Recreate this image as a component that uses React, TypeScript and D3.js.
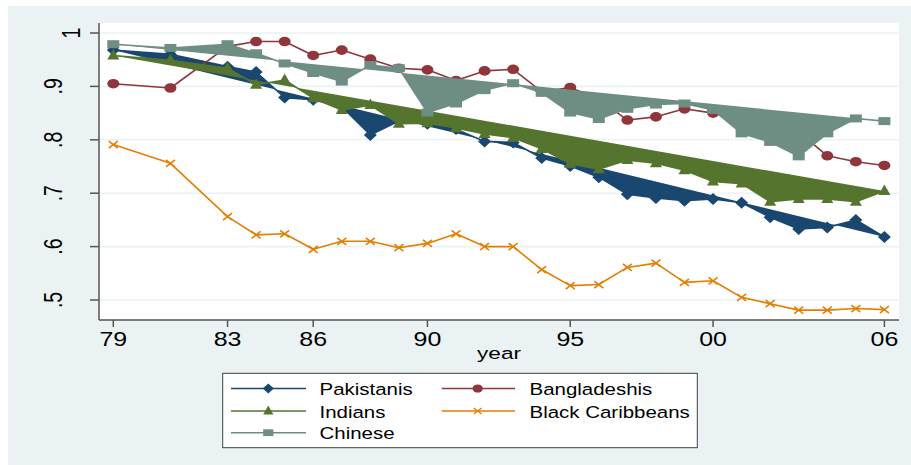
import React from "react";
import * as d3 from "d3";

const years = [1979, 1981, 1983, 1984, 1985, 1986, 1987, 1988, 1989, 1990, 1991, 1992, 1993, 1994, 1995, 1996, 1997, 1998, 1999, 2000, 2001, 2002, 2003, 2004, 2005, 2006];
const pakistanis = [0.968, 0.960, 0.937, 0.927, 0.879, 0.875, 0.862, 0.809, 0.835, 0.830, 0.820, 0.797, 0.795, 0.766, 0.751, 0.730, 0.698, 0.691, 0.686, 0.689, 0.682, 0.655, 0.633, 0.636, 0.650, 0.618];
const bangladeshis = [0.905, 0.897, 0.975, 0.984, 0.984, 0.958, 0.968, 0.951, 0.934, 0.931, 0.911, 0.929, 0.932, 0.890, 0.898, 0.876, 0.837, 0.843, 0.858, 0.850, 0.835, 0.825, 0.815, 0.770, 0.759, 0.752];
const indians = [0.958, 0.949, 0.934, 0.903, 0.912, 0.878, 0.856, 0.865, 0.830, 0.831, 0.822, 0.811, 0.804, 0.783, 0.755, 0.745, 0.762, 0.756, 0.743, 0.722, 0.718, 0.684, 0.689, 0.689, 0.684, 0.704];
const blackCaribbeans = [0.791, 0.756, 0.656, 0.622, 0.624, 0.595, 0.610, 0.610, 0.598, 0.606, 0.624, 0.600, 0.600, 0.557, 0.527, 0.529, 0.561, 0.569, 0.533, 0.536, 0.505, 0.493, 0.481, 0.481, 0.484, 0.482];
const chinese = [0.979, 0.972, 0.979, 0.962, 0.943, 0.925, 0.909, 0.940, 0.934, 0.851, 0.868, 0.893, 0.906, 0.888, 0.851, 0.839, 0.858, 0.866, 0.868, 0.856, 0.812, 0.796, 0.769, 0.812, 0.840, 0.835];

const xTicks = [1979, 1983, 1986, 1990, 1995, 2000, 2006];
const xTickLabels = ["79", "83", "86", "90", "95", "00", "06"];
const yTicks = [0.5, 0.6, 0.7, 0.8, 0.9, 1];
const yTickLabels = [".5", ".6", ".7", ".8", ".9", "1"];

type Series = { name: string; values: number[]; color: string; marker: string; filled: boolean };
const series: Series[] = [
  { name: "Pakistanis", values: pakistanis, color: "#1a476f", marker: "diamond", filled: true },
  { name: "Bangladeshis", values: bangladeshis, color: "#90353b", marker: "circle", filled: false },
  { name: "Indians", values: indians, color: "#55752f", marker: "triangle", filled: true },
  { name: "Black Caribbeans", values: blackCaribbeans, color: "#e37e00", marker: "x", filled: false },
  { name: "Chinese", values: chinese, color: "#6e8e84", marker: "square", filled: true },
];

const FONT = "'Liberation Sans', Arial, Helvetica, sans-serif";

function Marker({ type, x, y, color, s = 1 }: { type: string; x: number; y: number; color: string; s?: number }) {
  const t = `translate(${x},${y}) scale(${s})`;
  if (type === "diamond") return <path transform={t} d="M0,-6 L6.5,0 L0,6 L-6.5,0 Z" fill={color} />;
  if (type === "circle") return <ellipse transform={t} rx={6} ry={4.8} fill={color} />;
  if (type === "triangle") return <path transform={t} d="M0,-6.5 L6,4 L-6,4 Z" fill={color} />;
  if (type === "square") return <rect transform={t} x={-6} y={-4} width={12} height={8} fill={color} />;
  return <path transform={t} d="M-4.5,-3.5 L4.5,3.5 M-4.5,3.5 L4.5,-3.5" stroke={color} strokeWidth={1.6} fill="none" />;
}

export default function App() {
  const x = d3.scaleLinear().domain([1979, 2006]).range([113.3, 884.4]);
  const y = d3.scaleLinear().domain([0.5, 1]).range([300, 33]);
  const plot = { left: 99, top: 23, right: 899, bottom: 320 };

  const line = d3.line<[number, number]>().x((d) => x(d[0])).y((d) => y(d[1]));

  const legendItems = [
    { s: series[0], col: 0, row: 0 },
    { s: series[1], col: 1, row: 0 },
    { s: series[2], col: 0, row: 1 },
    { s: series[3], col: 1, row: 1 },
    { s: series[4], col: 0, row: 2 },
  ];
  const legCols = [{ l0: 231, l1: 306, m: 268.3, t: 319.5 }, { l0: 441.7, l1: 515, m: 477.7, t: 529.5 }];
  const legRows = [388.5, 411, 432.7];

  return (
    <svg width={911} height={465} style={{ position: "absolute", left: 0, top: 0, display: "block" }}>
      <rect x={0} y={0} width={911} height={465} fill="#ffffff" />
      <rect x={8} y={6} width={903} height={459} fill="#eaf2f3" />
      <rect x={plot.left} y={plot.top} width={plot.right - plot.left} height={plot.bottom - plot.top} fill="#ffffff" />
      {yTicks.map((t) => (
        <line key={"g" + t} x1={plot.left} x2={plot.right} y1={y(t)} y2={y(t)} stroke="#eaf2f3" strokeWidth={1.6} />
      ))}

      {series.map((s) => {
        const pts: [number, number][] = years.map((yr, i) => [yr, s.values[i]]);
        const d = line(pts) || "";
        return (
          <g key={s.name}>
            {s.filled && <path d={d + "Z"} fill={s.color} stroke="none" />}
            <path d={d} fill="none" stroke={s.color} strokeWidth={1.6} strokeLinejoin="round" />
            {pts.map((p, i) => (
              <Marker key={i} type={s.marker} x={x(p[0])} y={y(p[1])} color={s.color} />
            ))}
          </g>
        );
      })}

      <line x1={plot.left} x2={plot.left} y1={plot.top} y2={plot.bottom} stroke="#555555" strokeWidth={1.5} />
      <line x1={plot.left} x2={plot.right} y1={plot.bottom} y2={plot.bottom} stroke="#555555" strokeWidth={1.5} />

      {yTicks.map((t, i) => (
        <g key={"yt" + t}>
          <line x1={plot.left - 9} x2={plot.left} y1={y(t)} y2={y(t)} stroke="#555555" strokeWidth={1.5} />
          <text
            transform={`translate(${yTickLabels[i] === "1" ? 80 : 62},${y(t)}) scale(1.3,1) rotate(-90)`}
            textAnchor="middle"
            fontFamily={FONT}
            fontSize={19.5}
            fill="#000"
          >
            {yTickLabels[i]}
          </text>
        </g>
      ))}

      {xTicks.map((t, i) => (
        <g key={"xt" + t}>
          <line x1={x(t)} x2={x(t)} y1={plot.bottom} y2={plot.bottom + 7} stroke="#555555" strokeWidth={1.5} />
          <text
            transform={`translate(${x(t)},345.7) scale(1.28,1)`}
            textAnchor="middle"
            fontFamily={FONT}
            fontSize={19.5}
            fill="#000"
          >
            {xTickLabels[i]}
          </text>
        </g>
      ))}

      <text transform="translate(499,359) scale(1.3,1)" textAnchor="middle" fontFamily={FONT} fontSize={17.4} fill="#000">
        year
      </text>

      <rect x={222.7} y={373.3} width={474.6} height={74.4} fill="#ffffff" stroke="#404040" strokeWidth={1} />
      {legendItems.map(({ s, col, row }) => {
        const c = legCols[col];
        const ry = legRows[row];
        return (
          <g key={"lg" + s.name}>
            <line x1={c.l0} x2={c.l1} y1={ry} y2={ry} stroke={s.color} strokeWidth={1.5} />
            <Marker type={s.marker} x={c.m} y={ry} color={s.color} s={0.85} />
            <text transform={`translate(${c.t},${ry + 6.5}) scale(1.19,1)`} fontFamily={FONT} fontSize={17.2} fill="#000">
              {s.name}
            </text>
          </g>
        );
      })}
    </svg>
  );
}
